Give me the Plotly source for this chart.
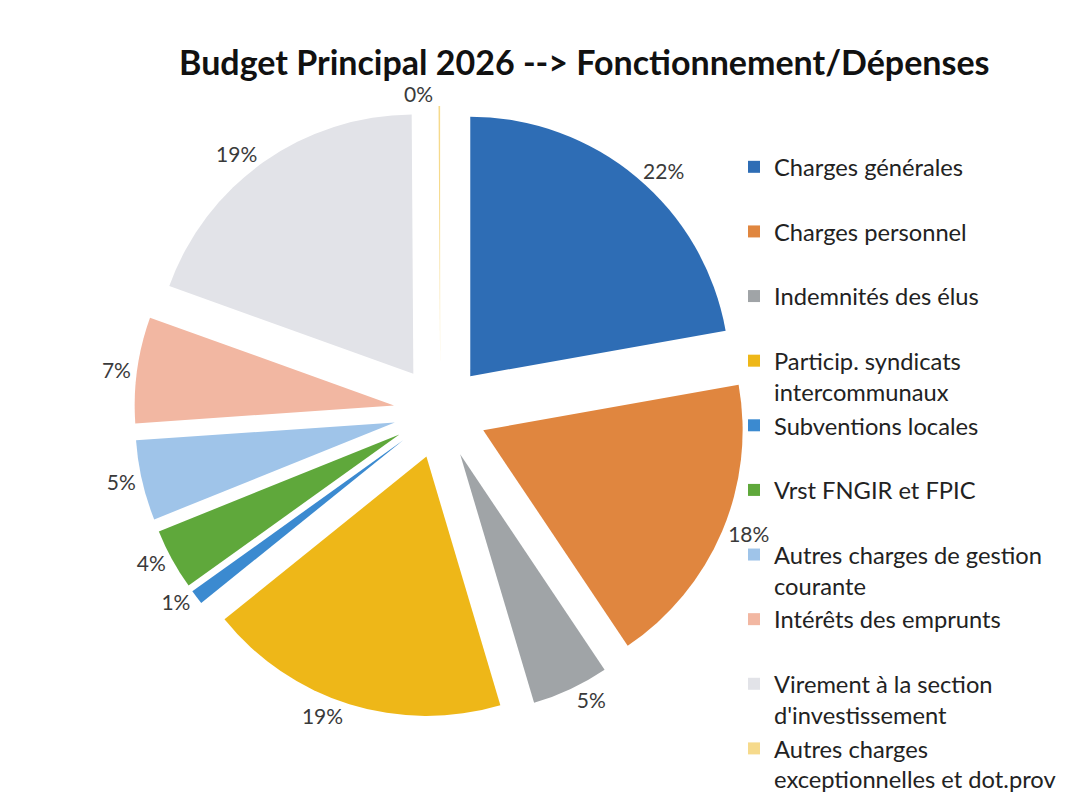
import plotly.graph_objects as go

# postes de dépenses (ordre du camembert, sens horaire depuis 12h)
labels = [
    "Charges générales",
    "Charges personnel",
    "Indemnités des élus",
    "Particip. syndicats<br>intercommunaux",
    "Subventions locales",
    "Vrst FNGIR et FPIC",
    "Autres charges de gestion<br>courante",
    "Intérêts des emprunts",
    "Virement à la section<br>d'investissement",
    "Autres charges<br>exceptionnelles et dot.prov",
]
# parts (en %)
values = [22.2, 18.4, 4.8, 18.8, 0.9, 3.8, 5.0, 6.6, 19.4, 0.1]

colors = [
    "#2E6DB5", "#E0863F", "#A0A4A7", "#EEB718", "#3B8AD0",
    "#5FA83B", "#9FC4E9", "#F2B7A2", "#E2E3E8", "#F6DA8C",
]

# une ligne vide en plus pour les libellés courts -> même hauteur dans la légende
legend_names = [l if "<br>" in l else l + "<br>\u00a0" for l in labels]

fig = go.Figure(
    go.Pie(
        labels=legend_names,
        values=values,
        sort=False,
        direction="clockwise",
        rotation=0,
        pull=[0.18] * len(values),
        marker=dict(colors=colors, line=dict(width=0)),
        texttemplate="%{percent:.0%}",
        textposition="outside",
        textfont=dict(family="Lato", size=21, color="#3a3a3a"),
        domain=dict(x=[0.1175, 0.6875], y=[0.108, 0.877]),
        hoverinfo="label+percent",
    )
)

fig.update_layout(
    width=1074,
    height=796,
    paper_bgcolor="white",
    plot_bgcolor="white",
    margin=dict(l=0, r=0, t=0, b=0, autoexpand=False),
    title=dict(
        text="<b>Budget Principal 2026 --> Fonctionnement/Dépenses</b>",
        x=0.5366,
        xanchor="center",
        y=0.931,
        yanchor="middle",
        font=dict(family="Lato", size=34, color="#111111"),
    ),
    legend=dict(
        x=0.676,
        y=0.828,
        xanchor="left",
        yanchor="top",
        valign="top",
        font=dict(family="Lato", size=23.7, color="#222222"),
        bgcolor="rgba(0,0,0,0)",
    ),
    showlegend=True,
)

fig.write_html("out.html")
